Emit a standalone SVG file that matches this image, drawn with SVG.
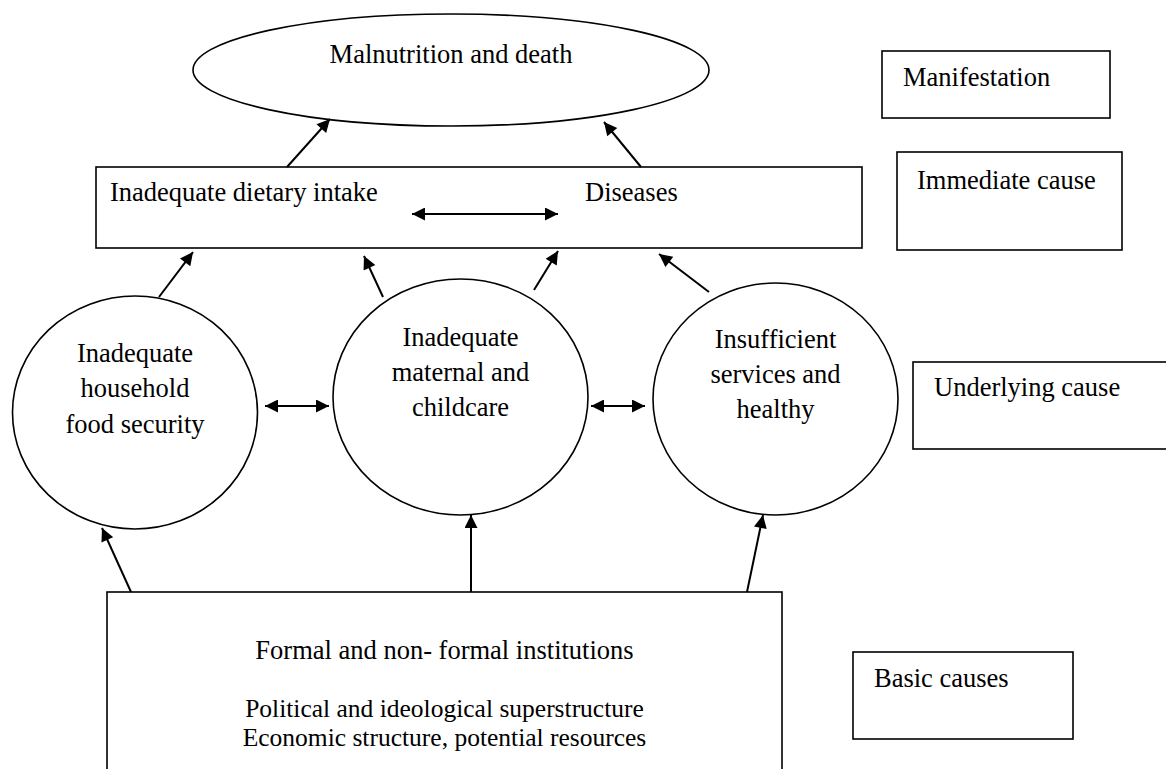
<svg xmlns="http://www.w3.org/2000/svg" width="1166" height="769" viewBox="0 0 1166 769">
<defs>
<marker id="ah" viewBox="0 0 10 10" refX="10" refY="5" markerUnits="userSpaceOnUse" markerWidth="15" markerHeight="13" orient="auto-start-reverse"><path d="M0,0 L10,5 L0,10 z" fill="#000"/></marker>
</defs>
<style>
.shape{fill:#fff;stroke:#000;stroke-width:1.6}
.t{font-family:"Liberation Serif","Times New Roman",serif;font-size:26.5px;fill:#000}
.c{text-anchor:middle}
.s{font-size:25.5px}
#connectors line{stroke:#000;stroke-width:2;marker-end:url(#ah)}
#connectors line.dbl{marker-start:url(#ah)}
</style>
<rect width="1166" height="769" fill="#fff"/>
<g id="manifest-node">
<ellipse class="shape" cx="451" cy="70" rx="258" ry="56"/>
<text class="t c" x="451" y="63">Malnutrition and death</text>
</g>
<g id="immediate-node">
<rect class="shape" x="96" y="167" width="766" height="81"/>
<text class="t" x="110" y="201">Inadequate dietary intake</text>
<text class="t" x="585" y="201">Diseases</text>
</g>
<g id="household-node">
<ellipse class="shape" cx="135" cy="412.5" rx="122.5" ry="116.5"/>
<text class="t c" x="135" y="362">Inadequate</text>
<text class="t c" x="135" y="397">household</text>
<text class="t c" x="135" y="433">food security</text>
</g>
<g id="maternal-node">
<ellipse class="shape" cx="460.5" cy="397" rx="127.5" ry="118"/>
<text class="t c" x="460.5" y="346">Inadequate</text>
<text class="t c" x="460.5" y="381">maternal and</text>
<text class="t c" x="460.5" y="416">childcare</text>
</g>
<g id="services-node">
<ellipse class="shape" cx="775.5" cy="399" rx="122.5" ry="116"/>
<text class="t c" x="775.5" y="348">Insufficient</text>
<text class="t c" x="775.5" y="383">services and</text>
<text class="t c" x="775.5" y="418">healthy</text>
</g>
<g id="basic-node">
<rect class="shape" x="107" y="592" width="675" height="200"/>
<text class="t c" x="444.5" y="659">Formal and non- formal institutions</text>
<text class="t c s" x="444.5" y="717">Political and ideological superstructure</text>
<text class="t c s" x="444.5" y="746">Economic structure, potential resources</text>
</g>
<g id="legend-manifestation">
<rect class="shape" x="882" y="51" width="228" height="67"/>
<text class="t" x="903" y="86">Manifestation</text>
</g>
<g id="legend-immediate">
<rect class="shape" x="897" y="152" width="225" height="98"/>
<text class="t" x="917" y="189">Immediate cause</text>
</g>
<g id="legend-underlying">
<rect class="shape" x="913" y="362" width="270" height="87"/>
<text class="t" x="934" y="396">Underlying cause</text>
</g>
<g id="legend-basic">
<rect class="shape" x="853" y="652" width="220" height="87"/>
<text class="t" x="874" y="687">Basic causes</text>
</g>
<g id="connectors">
<line x1="287" y1="167" x2="330" y2="119"/>
<line x1="641" y1="167" x2="604" y2="122"/>
<line class="dbl" x1="412" y1="214" x2="558" y2="214"/>
<line x1="159" y1="297" x2="193" y2="252"/>
<line x1="383" y1="297" x2="364" y2="256"/>
<line x1="534" y1="290" x2="558" y2="251"/>
<line x1="709" y1="292" x2="659" y2="254"/>
<line class="dbl" x1="265" y1="406" x2="329" y2="406"/>
<line class="dbl" x1="591" y1="406" x2="645" y2="406"/>
<line x1="131" y1="592" x2="102" y2="528"/>
<line x1="471" y1="592" x2="471" y2="515"/>
<line x1="747" y1="592" x2="763" y2="515"/>
</g>
</svg>
